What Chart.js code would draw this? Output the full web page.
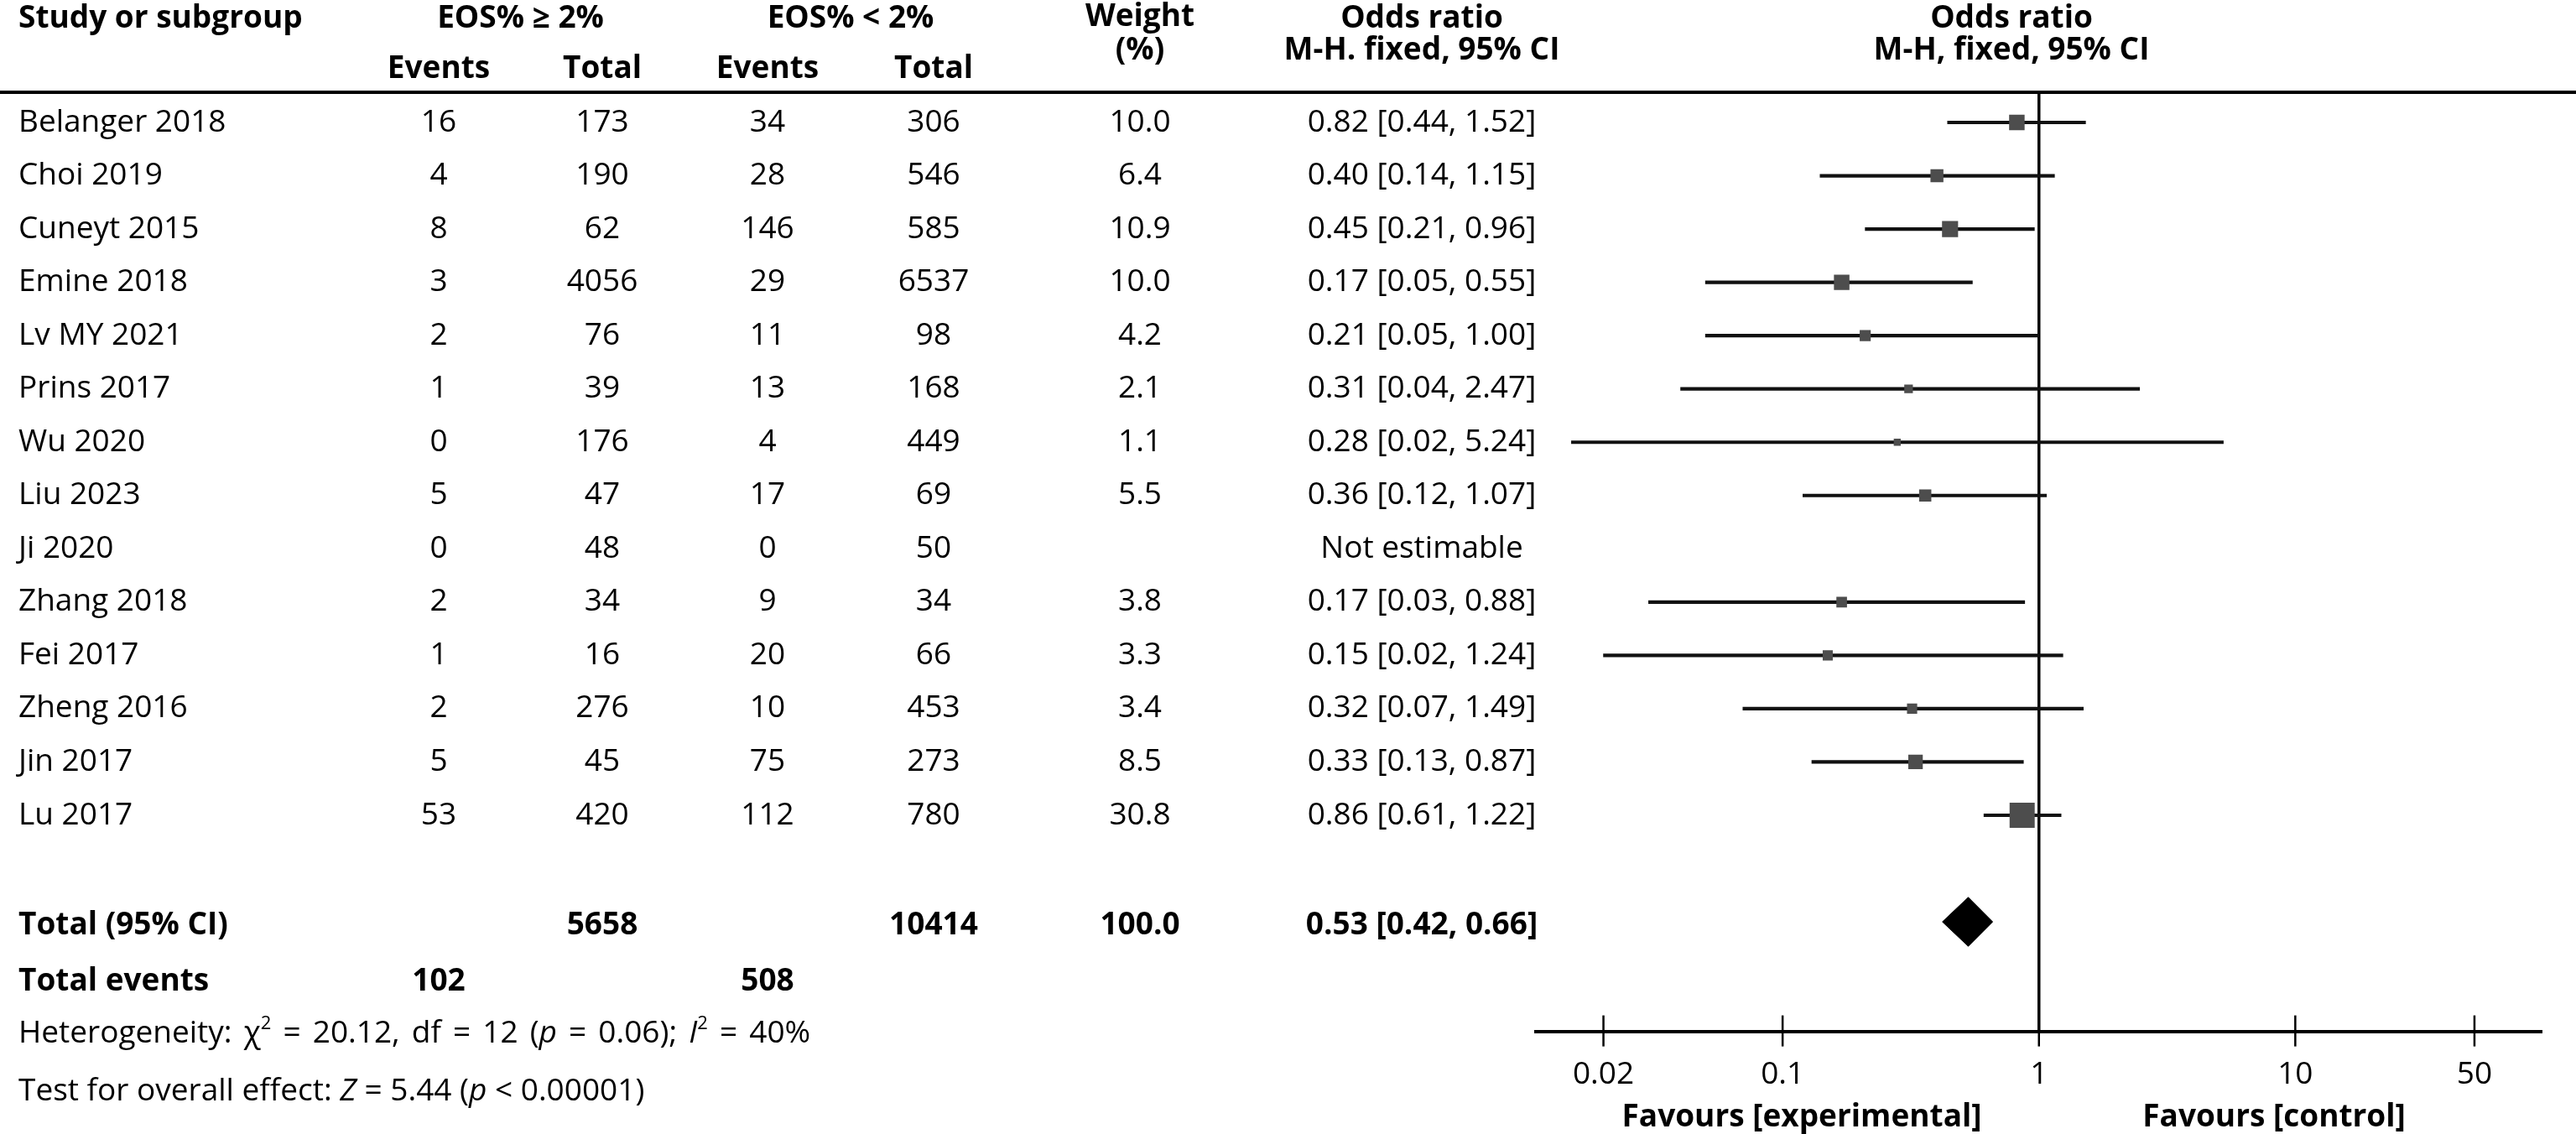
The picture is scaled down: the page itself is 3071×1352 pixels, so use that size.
<!DOCTYPE html>
<html>
<head>
<meta charset="utf-8">
<script src="https://cdn.jsdelivr.net/npm/chart.js@4.4.0/dist/chart.umd.min.js"></script>
<style>
  html, body { margin: 0; padding: 0; background: #fff; }
  canvas { display: block; }
</style>
</head>
<body>
<canvas id="forest" width="3071" height="1352"></canvas>
<script>
// data
const studies = ["Belanger 2018", "Choi 2019", "Cuneyt 2015", "Emine 2018", "Lv MY 2021", "Prins 2017", "Wu 2020",
  "Liu 2023", "Ji 2020", "Zhang 2018", "Fei 2017", "Zheng 2016", "Jin 2017", "Lu 2017"];
const expEvents = [16, 4, 8, 3, 2, 1, 0, 5, 0, 2, 1, 2, 5, 53];
const expTotal = [173, 190, 62, 4056, 76, 39, 176, 47, 48, 34, 16, 276, 45, 420];
const ctlEvents = [34, 28, 146, 29, 11, 13, 4, 17, 0, 9, 20, 10, 75, 112];
const ctlTotal = [306, 546, 585, 6537, 98, 168, 449, 69, 50, 34, 66, 453, 273, 780];
const weights = ["10.0", "6.4", "10.9", "10.0", "4.2", "2.1", "1.1", "5.5", "", "3.8", "3.3", "3.4", "8.5", "30.8"];
const oddsRatio = [0.82, 0.40, 0.45, 0.17, 0.21, 0.31, 0.28, 0.36, null, 0.17, 0.15, 0.32, 0.33, 0.86];
const ciLow = [0.44, 0.14, 0.21, 0.05, 0.05, 0.04, 0.015, 0.12, null, 0.03, 0.02, 0.07, 0.13, 0.61];
const ciHigh = [1.52, 1.15, 0.96, 0.55, 1.00, 2.47, 5.24, 1.07, null, 0.88, 1.24, 1.49, 0.87, 1.22];
const orLabels = ["0.82 [0.44, 1.52]", "0.40 [0.14, 1.15]", "0.45 [0.21, 0.96]", "0.17 [0.05, 0.55]",
  "0.21 [0.05, 1.00]", "0.31 [0.04, 2.47]", "0.28 [0.02, 5.24]", "0.36 [0.12, 1.07]", "Not estimable",
  "0.17 [0.03, 0.88]", "0.15 [0.02, 1.24]", "0.32 [0.07, 1.49]", "0.33 [0.13, 0.87]", "0.86 [0.61, 1.22]"];

const pooled = { or: 0.53, lo: 0.42, hi: 0.66, label: "0.53 [0.42, 0.66]" };
const totals = { exp: 5658, ctl: 10414, weight: "100.0", expEvents: 102, ctlEvents: 508 };
const tickValues = [0.02, 0.1, 1, 10, 50];

const FAMILY = '"Open Sans", sans-serif';
const SZ = 37;
const totalRow = 15;

// column centres (px)
const col = { name: 22, e1: 523, t1: 718, e2: 915, t2: 1113, w: 1359, or: 1695 };

const ciData = [], sqData = [], sqRadius = [];
studies.forEach((s, i) => {
  if (oddsRatio[i] == null) return;
  ciData.push({ x: [ciLow[i], ciHigh[i]], y: i });
  sqData.push({ x: oddsRatio[i], y: i });
  // square side grows with sqrt(weight); 'rect' side = radius * sqrt(2)
  sqRadius.push((3.3 + 4.8 * Math.sqrt(parseFloat(weights[i]))) / Math.SQRT2);
});
const dH = 0.46;
const diamondTop = [{ x: pooled.lo, y: totalRow }, { x: pooled.or, y: totalRow - dH }, { x: pooled.hi, y: totalRow }];
const diamondBottom = [{ x: pooled.lo, y: totalRow }, { x: pooled.or, y: totalRow + dH }, { x: pooled.hi, y: totalRow }];

function txt(ctx, s, x, y, align, bold) {
  ctx.font = (bold ? 'bold ' : '') + SZ + 'px ' + FAMILY;
  ctx.textAlign = align;
  ctx.fillText(String(s), x, y);
}

// mixed-style text; gap = extra px after each space
function runs(ctx, parts, x, y, gap) {
  ctx.textAlign = 'left';
  for (const p of parts) {
    const size = p.sup ? Math.round(SZ * 0.6) : SZ;
    ctx.font = (p.it ? 'italic ' : '') + size + 'px ' + FAMILY;
    const yy = p.sup ? y - SZ * 0.32 : y;
    p.t.split(/( )/).forEach(tok => {
      if (!tok) return;
      ctx.fillText(tok, x, yy);
      x += ctx.measureText(tok).width + (tok === ' ' ? gap : 0);
    });
  }
}

const forestPlugin = {
  id: 'forestTable',
  beforeDatasetsDraw(chart) {
    const { ctx, chartArea } = chart;
    const xs = chart.scales.x;
    ctx.save();
    ctx.strokeStyle = '#000';
    // top rule
    ctx.lineWidth = 4;
    ctx.beginPath();
    ctx.moveTo(0, chartArea.top);
    ctx.lineTo(chart.width, chartArea.top);
    ctx.stroke();
    // line of no effect
    const x1 = xs.getPixelForValue(1);
    ctx.lineWidth = 3.5;
    ctx.beginPath();
    ctx.moveTo(x1, chartArea.top);
    ctx.lineTo(x1, chartArea.bottom);
    ctx.stroke();
    ctx.restore();
  },
  afterDraw(chart) {
    const { ctx, chartArea } = chart;
    const xs = chart.scales.x, ys = chart.scales.y;
    ctx.save();
    ctx.fillStyle = '#000';
    ctx.textBaseline = 'middle';

    // headers
    txt(ctx, 'Study or subgroup', col.name, 22, 'left', true);
    txt(ctx, 'EOS% \u2265 2%', (col.e1 + col.t1) / 2, 22, 'center', true);
    txt(ctx, 'EOS% < 2%', (col.e2 + col.t2) / 2, 22, 'center', true);
    txt(ctx, 'Events', col.e1, 82, 'center', true);
    txt(ctx, 'Total', col.t1, 82, 'center', true);
    txt(ctx, 'Events', col.e2, 82, 'center', true);
    txt(ctx, 'Total', col.t2, 82, 'center', true);
    txt(ctx, 'Weight', col.w, 20, 'center', true);
    txt(ctx, '(%)', col.w, 60, 'center', true);
    txt(ctx, 'Odds ratio', col.or, 22, 'center', true);
    txt(ctx, 'M-H. fixed, 95% CI', col.or, 60, 'center', true);
    const hx = 2398;
    txt(ctx, 'Odds ratio', hx, 22, 'center', true);
    txt(ctx, 'M-H, fixed, 95% CI', hx, 60, 'center', true);

    // study rows
    studies.forEach((s, i) => {
      const y = ys.getPixelForValue(i);
      txt(ctx, s, col.name, y, 'left');
      txt(ctx, expEvents[i], col.e1, y, 'center');
      txt(ctx, expTotal[i], col.t1, y, 'center');
      txt(ctx, ctlEvents[i], col.e2, y, 'center');
      txt(ctx, ctlTotal[i], col.t2, y, 'center');
      txt(ctx, weights[i], col.w, y, 'center');
      txt(ctx, orLabels[i], col.or, y, 'center');
    });

    // totals
    let y = ys.getPixelForValue(totalRow + 0.07);
    txt(ctx, 'Total (95% CI)', col.name, y, 'left', true);
    txt(ctx, totals.exp, col.t1, y, 'center', true);
    txt(ctx, totals.ctl, col.t2, y, 'center', true);
    txt(ctx, totals.weight, col.w, y, 'center', true);
    txt(ctx, pooled.label, col.or, y, 'center', true);
    y = ys.getPixelForValue(totalRow + 1.13);
    txt(ctx, 'Total events', col.name, y, 'left', true);
    txt(ctx, totals.expEvents, col.e1, y, 'center', true);
    txt(ctx, totals.ctlEvents, col.e2, y, 'center', true);

    runs(ctx, [
      { t: 'Heterogeneity: \u03C7' }, { t: '2', sup: true }, { t: ' = 20.12, df = 12 (' },
      { t: 'p', it: true }, { t: ' = 0.06); ' }, { t: 'I', it: true }, { t: '2', sup: true }, { t: ' = 40%' }
    ], col.name, ys.getPixelForValue(totalRow + 2.1), 4.5);
    runs(ctx, [
      { t: 'Test for overall effect: ' }, { t: 'Z', it: true }, { t: ' = 5.44 (' },
      { t: 'p', it: true }, { t: ' < 0.00001)' }
    ], col.name, ys.getPixelForValue(totalRow + 3.18), 0);

    // tick marks crossing the axis
    ctx.strokeStyle = '#000';
    ctx.lineWidth = 2.5;
    tickValues.forEach(v => {
      const x = xs.getPixelForValue(v);
      ctx.beginPath();
      ctx.moveTo(x, chartArea.bottom - 19);
      ctx.lineTo(x, chartArea.bottom + 18);
      ctx.stroke();
    });

    txt(ctx, 'Favours [experimental]', 2148, 1332, 'center', true);
    txt(ctx, 'Favours [control]', 2711, 1332, 'center', true);
    ctx.restore();
  }
};

new Chart(document.getElementById('forest'), {
  type: 'scatter',
  data: {
    datasets: [
      { type: 'bar', indexAxis: 'y', data: ciData, barThickness: 3.5, backgroundColor: '#111', borderWidth: 0, order: 3 },
      { type: 'scatter', data: sqData, pointStyle: 'rect', pointRadius: sqRadius, backgroundColor: '#4d4d4d',
        borderWidth: 0, order: 1 },
      { type: 'line', data: diamondTop, borderColor: '#000', borderWidth: 1, pointRadius: 0, fill: false, order: 2 },
      { type: 'line', data: diamondBottom, borderColor: '#000', backgroundColor: '#000', borderWidth: 1,
        pointRadius: 0, fill: '-1', order: 2 }
    ]
  },
  options: {
    responsive: false,
    animation: false,
    devicePixelRatio: 1,
    layout: { padding: { left: 1831, right: 41, top: 110, bottom: 18 } },
    plugins: { legend: { display: false }, tooltip: { enabled: false }, title: { display: false } },
    scales: {
      x: {
        type: 'logarithmic',
        min: 0.0109,
        max: 91.4,
        beginAtZero: false,
        offset: false,
        afterBuildTicks: axis => { axis.ticks = tickValues.map(v => ({ value: v })); },
        ticks: {
          autoSkip: false, maxRotation: 0, padding: 30, color: '#000',
          font: { family: FAMILY, size: SZ },
          callback: v => String(v)
        },
        grid: { display: true, drawOnChartArea: false, drawTicks: false, lineWidth: 1 },
        border: { display: true, color: '#000', width: 4 }
      },
      y: {
        type: 'linear',
        reverse: true,
        min: -0.567,
        max: 17.055,
        offset: false,
        display: false
      }
    }
  },
  plugins: [forestPlugin]
});
</script>
</body>
</html>
